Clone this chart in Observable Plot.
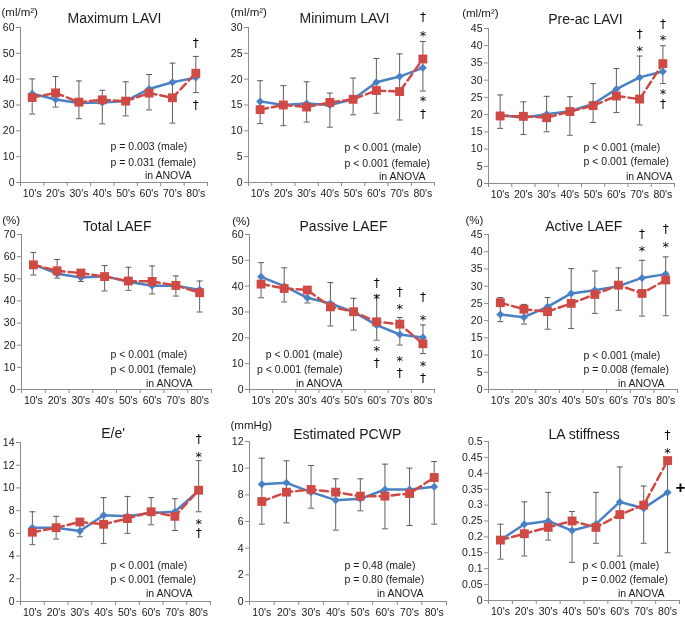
<!DOCTYPE html>
<html><head><meta charset="utf-8">
<script src="https://cdn.jsdelivr.net/npm/d3@7"></script>
<script src="https://cdn.jsdelivr.net/npm/@observablehq/plot@0.6"></script>
<style>
body{margin:0;background:#fff;}
#chart{position:relative;width:685px;height:620px;background:#fff;overflow:hidden;}
#chart svg{position:absolute;overflow:visible;will-change:transform;}
</style></head><body><div id="chart"></div>
<script>
const ages = ["10's","20's","30's","40's","50's","60's","70's","80's"];

// Maximum LAVI
const maxLaviMale   = [34.4, 32.1, 30.8, 31.0, 31.5, 36.2, 38.8, 40.6];
const maxLaviFemale = [32.9, 34.7, 31.1, 32.0, 31.5, 34.6, 32.8, 42.3];
const maxLaviHigh   = [40.1, 41.0, 39.3, 35.7, 39.0, 41.8, 46.2, 48.8];
const maxLaviLow    = [26.5, 29.2, 24.7, 22.7, 25.8, 28.1, 23.0, 34.8];
const maxLaviTicks  = [0, 10, 20, 30, 40, 50, 60];
const maxLaviNotes  = [{age:"80's", y:53.8, t:"†"}, {age:"80's", y:30.0, t:"†"}];
const maxLaviP      = ["p = 0.003 (male)", "p = 0.031 (female)", "in ANOVA"];

// Minimum LAVI
const minLaviMale   = [15.7, 15.0, 15.3, 15.0, 16.1, 19.4, 20.5, 22.2];
const minLaviFemale = [14.1, 15.0, 14.6, 15.5, 16.1, 17.8, 17.6, 23.9];
const minLaviHigh   = [19.7, 18.75, 19.5, 17.3, 20.2, 24.0, 24.9, 27.3];
const minLaviLow    = [11.4, 11.0, 11.7, 10.7, 13.1, 13.4, 12.1, 17.7];
const minLaviTicks  = [0, 5, 10, 15, 20, 25, 30];
const minLaviNotes  = [{age:"80's", y:32.0, t:"†"}, {age:"80's", y:29.0, t:"*"}, {age:"80's", y:16.4, t:"*"}, {age:"80's", y:13.3, t:"†"}];
const minLaviP      = ["p < 0.001 (male)", "p < 0.001 (female)", "in ANOVA"];

// Pre-ac LAVI
const preLaviMale   = [19.9, 19.1, 20.1, 21.0, 23.1, 27.4, 30.8, 32.5];
const preLaviFemale = [19.6, 19.5, 19.1, 20.9, 22.6, 25.4, 24.5, 34.8];
const preLaviHigh   = [25.7, 23.7, 25.3, 25.2, 29.0, 33.4, 37.0, 40.0];
const preLaviLow    = [16.0, 14.2, 15.0, 14.0, 17.7, 20.6, 17.0, 29.0];
const preLaviTicks  = [0, 5, 10, 15, 20, 25, 30, 35, 40, 45];
const preLaviNotes  = [{age:"70's", y:43.5, t:"†"}, {age:"70's", y:39.3, t:"*"}, {age:"80's", y:46.4, t:"†"}, {age:"80's", y:42.6, t:"*"}, {age:"80's", y:27.0, t:"*"}, {age:"80's", y:23.1, t:"†"}];
const preLaviP      = ["p < 0.001 (male)", "p < 0.001 (female)", "in ANOVA"];

// Total LAEF
const totEfMale   = [56.5, 52.3, 50.6, 51.2, 48.7, 46.9, 46.9, 45.0];
const totEfFemale = [56.3, 53.6, 52.6, 51.0, 49.0, 48.8, 47.0, 43.7];
const totEfHigh   = [61.9, 58.7, 52.7, 56.0, 55.2, 55.8, 51.3, 49.0];
const totEfLow    = [51.7, 50.3, 48.8, 44.5, 44.8, 43.2, 42.2, 35.0];
const totEfTicks  = [0, 10, 20, 30, 40, 50, 60, 70];
const totEfNotes  = [];
const totEfP      = ["p < 0.001 (male)", "p < 0.001 (female)", "in ANOVA"];

// Passive LAEF
const pasEfMale   = [43.6, 40.0, 35.5, 33.3, 30.0, 24.9, 21.3, 20.1];
const pasEfFemale = [40.8, 39.1, 38.5, 32.0, 30.1, 26.2, 25.3, 17.7];
const pasEfHigh   = [49.1, 47.1, 38.8, 41.4, 35.3, 36.5, 27.9, 25.0];
const pasEfLow    = [35.5, 33.9, 33.5, 24.6, 23.0, 19.1, 17.2, 13.9];
const pasEfTicks  = [0, 10, 20, 30, 40, 50, 60];
const pasEfNotes  = [
  {age:"60's", y:41.3, t:"†"}, {age:"60's", y:36.1, t:"*"}, {age:"60's", y:16.3, t:"*"}, {age:"60's", y:10.1, t:"†"},
  {age:"70's", y:37.5, t:"†"}, {age:"70's", y:32.4, t:"*"}, {age:"70's", y:12.4, t:"*"}, {age:"70's", y:6.5, t:"†"},
  {age:"80's", y:35.9, t:"†"}, {age:"80's", y:28.1, t:"*"}, {age:"80's", y:10.3, t:"*"}, {age:"80's", y:4.5, t:"†"}];
const pasEfP      = ["p < 0.001 (male)", "p < 0.001 (female)", "in ANOVA"];

// Active LAEF
const actEfMale   = [21.8, 21.0, 24.0, 27.9, 28.8, 30.0, 32.4, 33.5];
const actEfFemale = [25.2, 23.3, 22.6, 25.0, 27.6, 30.3, 27.9, 31.8];
const actEfHigh   = [26.7, 24.7, 26.7, 35.1, 34.4, 35.3, 37.5, 38.5];
const actEfLow    = [19.7, 19.0, 17.5, 17.7, 22.1, 23.0, 21.3, 21.4];
const actEfTicks  = [0, 5, 10, 15, 20, 25, 30, 35, 40, 45];
const actEfNotes  = [{age:"70's", y:45.0, t:"†"}, {age:"70's", y:41.0, t:"*"}, {age:"80's", y:46.6, t:"†"}, {age:"80's", y:42.3, t:"*"}];
const actEfP      = ["p < 0.001 (male)", "p = 0.008 (female)", "in ANOVA"];

// E/e'
const eeMale   = [6.5, 6.5, 6.2, 7.6, 7.5, 7.8, 7.9, 9.75];
const eeFemale = [6.1, 6.5, 7.0, 6.8, 7.3, 7.9, 7.5, 9.8];
const eeHigh   = [7.9, 7.5, 7.0, 9.15, 9.25, 9.15, 9.05, 12.4];
const eeLow    = [5.0, 5.5, 5.7, 5.1, 6.0, 6.75, 6.25, 7.9];
const eeTicks  = [0, 2, 4, 6, 8, 10, 12, 14];
const eeNotes  = [{age:"80's", y:14.3, t:"†"}, {age:"80's", y:13.0, t:"*"}, {age:"80's", y:7.1, t:"*"}, {age:"80's", y:6.0, t:"†"}];
const eeP      = ["p < 0.001 (male)", "p < 0.001 (female)", "in ANOVA"];

// Estimated PCWP
const pcwpMale   = [8.8, 8.9, 8.2, 7.6, 7.7, 8.4, 8.4, 8.6];
const pcwpFemale = [7.5, 8.2, 8.4, 8.2, 7.9, 7.9, 8.1, 9.3];
const pcwpHigh   = [10.75, 10.55, 10.2, 9.2, 9.2, 10.3, 10.0, 10.5];
const pcwpLow    = [5.8, 5.9, 7.0, 5.35, 6.8, 5.45, 5.7, 5.8];
const pcwpTicks  = [0, 2, 4, 6, 8, 10, 12];
const pcwpNotes  = [];
const pcwpP      = ["p = 0.48 (male)", "p = 0.80 (female)", "in ANOVA"];

// LA stiffness
const stiffMale   = [0.19, 0.24, 0.25, 0.22, 0.24, 0.31, 0.29, 0.34];
const stiffFemale = [0.19, 0.21, 0.23, 0.25, 0.23, 0.27, 0.30, 0.44];
const stiffHigh   = [0.24, 0.31, 0.34, 0.28, 0.34, 0.42, 0.36, 0.44];
const stiffLow    = [0.13, 0.14, 0.19, 0.12, 0.18, 0.14, 0.18, 0.15];
const stiffTicks  = [0, 0.05, 0.1, 0.15, 0.2, 0.25, 0.3, 0.35, 0.4, 0.45, 0.5];
const stiffNotes  = [{age:"80's", y:0.519, t:"†"}, {age:"80's", y:0.474, t:"*"}];
const stiffPlus   = [{age:"80's", y:0.355, t:"+"}];
const stiffP      = ["p < 0.001 (male)", "p = 0.002 (female)", "in ANOVA"];

const BLUE = "#4a80c4", RED = "#d04a45", AXIS = "#8c8c8c", BAR = "#5e5e5e", INK = "#1a1a1a";
const FONT = "'Liberation Sans', Arial, sans-serif";
const NOTE_FONT = "'DejaVu Sans', sans-serif";

const panels = [
  {title:"Maximum LAVI", unit:"(ml/m²)", male:maxLaviMale, female:maxLaviFemale, hi:maxLaviHigh, lo:maxLaviLow, ticks:maxLaviTicks, notes:maxLaviNotes, p:maxLaviP},
  {title:"Minimum LAVI", unit:"(ml/m²)", male:minLaviMale, female:minLaviFemale, hi:minLaviHigh, lo:minLaviLow, ticks:minLaviTicks, notes:minLaviNotes, p:minLaviP},
  {title:"Pre-ac LAVI", unit:"(ml/m²)", male:preLaviMale, female:preLaviFemale, hi:preLaviHigh, lo:preLaviLow, ticks:preLaviTicks, notes:preLaviNotes, p:preLaviP},
  {title:"Total LAEF", unit:"(%)", male:totEfMale, female:totEfFemale, hi:totEfHigh, lo:totEfLow, ticks:totEfTicks, notes:totEfNotes, p:totEfP},
  {title:"Passive LAEF", unit:"(%)", male:pasEfMale, female:pasEfFemale, hi:pasEfHigh, lo:pasEfLow, ticks:pasEfTicks, notes:pasEfNotes, p:pasEfP},
  {title:"Active LAEF", unit:"(%)", male:actEfMale, female:actEfFemale, hi:actEfHigh, lo:actEfLow, ticks:actEfTicks, notes:actEfNotes, p:actEfP},
  {title:"E/e'", unit:null, male:eeMale, female:eeFemale, hi:eeHigh, lo:eeLow, ticks:eeTicks, notes:eeNotes, p:eeP},
  {title:"Estimated PCWP", unit:"(mmHg)", male:pcwpMale, female:pcwpFemale, hi:pcwpHigh, lo:pcwpLow, ticks:pcwpTicks, notes:pcwpNotes, p:pcwpP},
  {title:"LA stiffness", unit:null, male:stiffMale, female:stiffFemale, hi:stiffHigh, lo:stiffLow, ticks:stiffTicks, notes:stiffNotes, p:stiffP, plus:stiffPlus}
];

// layout (absolute page pixels)
const layout = [
  {cell:[0,0,225,205],     frame:[20,207,27,182],   title:[114,18.3],   unit:[1,11.7],     pX:110, pAnchor:"start", pY:[146,161.7,175], anovaEnd:191},
  {cell:[225,0,230,205],   frame:[248,434,27,182],  title:[344,18.3],   unit:[230,12.3],   pX:344, pAnchor:"start", pY:[147,163,176], anovaEnd:425},
  {cell:[455,0,230,205],   frame:[488,674,28,183],  title:[585,19.3],   unit:[461.7,13.3], pX:583, pAnchor:"start", pY:[147,161.5,176], anovaEnd:672},
  {cell:[0,205,225,205],   frame:[21,211,234,389],  title:[116.7,225.7],unit:[1.7,220],    pX:110, pAnchor:"start", pY:[354,369,383], anovaEnd:192},
  {cell:[225,205,230,205], frame:[249,434,234,389], title:[343,226],    unit:[231.7,220.7],pX:342, pAnchor:"end",   pY:[354,369,383], anovaEnd:342},
  {cell:[455,205,230,205], frame:[488,677,234,389], title:[583.3,226],  unit:[465,220],    pX:583, pAnchor:"start", pY:[355,369,383], anovaEnd:664},
  {cell:[0,410,225,210],   frame:[20,210,442,601],  title:[112.5,433.3],unit:null,         pX:110, pAnchor:"start", pY:[565,579,593], anovaEnd:192},
  {cell:[225,410,230,210], frame:[249,446,441,601], title:[346.7,434],  unit:[230,425],    pX:344, pAnchor:"start", pY:[565,579,593], anovaEnd:423},
  {cell:[455,410,230,210], frame:[488,679,441,600], title:[583.7,434],  unit:null,         pX:582, pAnchor:"start", pY:[565,579,593], anovaEnd:664}
];

const cap = {draw(ctx) { ctx.moveTo(-3, 0); ctx.lineTo(3, 0); }};
const fmt = d => String(+(+d).toFixed(2));

function render(cfg, lay) {
  const [cx, cy, cw, ch] = lay.cell;
  const [x0, x1, top, bot] = lay.frame;
  const rows = ages.map((a, i) => ({x: i + 0.5, male: cfg.male[i], female: cfg.female[i], hi: cfg.hi[i], lo: cfg.lo[i]}));
  const ax = (txt, px, py, anchor, size, extra = {}) =>
    Plot.text([txt], {text: d => d, frameAnchor: "top-left", dx: px - x0, dy: py - top,
      textAnchor: anchor, lineAnchor: "middle", fontSize: size, fill: INK, ...extra});
  const xi = d => ages.indexOf(d.age) + 0.5;
  const daggers = cfg.notes.filter(d => d.t !== "*");
  const stars = cfg.notes.filter(d => d.t === "*");
  const marks = [
    Plot.ruleX([0], {stroke: AXIS}),
    Plot.ruleY([0], {stroke: AXIS}),
    Plot.axisY(cfg.ticks, {tickSize: 4, tickPadding: 2, stroke: AXIS, fill: INK, tickFormat: fmt, fontSize: 10.5, label: null}),
    Plot.axisX(d3.range(ages.length + 1), {tickSize: 4, stroke: AXIS, fill: "none", label: null}),
    Plot.axisX(rows.map(d => d.x), {tickSize: 0, tickPadding: 7, tickFormat: v => ages[Math.floor(v)], fill: INK, fontSize: 10.5, label: null}),
    Plot.ruleX(rows, {x: "x", y1: "lo", y2: "hi", stroke: BAR, strokeWidth: 1}),
    Plot.dot(rows, {x: "x", y: "lo", symbol: cap, stroke: BAR, fill: "none", strokeWidth: 1}),
    Plot.dot(rows, {x: "x", y: "hi", symbol: cap, stroke: BAR, fill: "none", strokeWidth: 1}),
    Plot.line(rows, {x: "x", y: "male", stroke: BLUE, strokeWidth: 2.5}),
    Plot.dot(rows, {x: "x", y: "male", symbol: "diamond2", r: 3.6, fill: BLUE}),
    Plot.line(rows, {x: "x", y: "female", stroke: RED, strokeWidth: 2.5, strokeDasharray: "8,4"}),
    Plot.dot(rows, {x: "x", y: "female", symbol: "square", r: 5, fill: RED}),
    Plot.text(daggers, {x: xi, y: "y", text: "t", fontSize: 12, fill: "#000", fontFamily: NOTE_FONT}),
    Plot.text(stars, {x: xi, y: "y", text: "t", fontSize: 13, dy: 3, fill: "#000", fontFamily: NOTE_FONT}),
    ax(cfg.title, lay.title[0], lay.title[1], "middle", 14),
    ax(cfg.p[0], lay.pX, lay.pY[0], lay.pAnchor, 10.5),
    ax(cfg.p[1], lay.pX, lay.pY[1], lay.pAnchor, 10.5),
    ax(cfg.p[2], lay.anovaEnd, lay.pY[2], "end", 10.5)
  ];
  if (cfg.unit) marks.push(ax(cfg.unit, lay.unit[0], lay.unit[1], "start", 11.5));
  if (cfg.plus) marks.push(Plot.text(cfg.plus, {x: xi, y: "y", text: "t", fontSize: 17, fontWeight: "bold", dx: 13, fill: "#000"}));
  const svg = Plot.plot({
    width: cw, height: ch,
    marginLeft: x0 - cx, marginRight: cx + cw - x1, marginTop: top - cy, marginBottom: cy + ch - bot,
    x: {type: "linear", domain: [0, ages.length], label: null},
    y: {domain: [0, cfg.ticks[cfg.ticks.length - 1]], label: null},
    style: {fontFamily: FONT, fontSize: "10.5px", background: "transparent", overflow: "visible", color: INK},
    marks
  });
  svg.style.left = cx + "px";
  svg.style.top = cy + "px";
  document.getElementById("chart").appendChild(svg);
}

panels.forEach((p, i) => render(p, layout[i]));
</script>
</body></html>
